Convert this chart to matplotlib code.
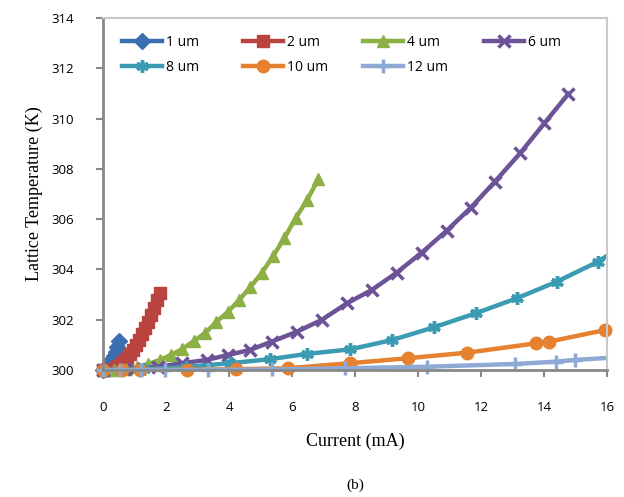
import matplotlib
matplotlib.use("Agg")
import matplotlib.pyplot as plt

# ---- data ----
x_1um = [0.0, 0.05, 0.10, 0.15, 0.20, 0.25, 0.30, 0.35, 0.40, 0.45, 0.50]
y_1um = [300.0, 300.02, 300.06, 300.12, 300.20, 300.30, 300.42, 300.56, 300.72, 300.90, 301.15]

x_2um = [0.0, 0.10, 0.19, 0.29, 0.38, 0.48, 0.57, 0.67, 0.76, 0.86, 0.95,
         1.05, 1.14, 1.24, 1.33, 1.43, 1.52, 1.62, 1.71, 1.81]
y_2um = [300.0, 300.0, 300.02, 300.04, 300.08, 300.16, 300.24, 300.36, 300.48, 300.64, 300.80,
         300.99, 301.19, 301.43, 301.67, 301.91, 302.19, 302.47, 302.78, 303.05]

x_4um = [0.0, 0.36, 0.72, 1.08, 1.44, 1.80, 2.16, 2.52, 2.88, 3.24, 3.60,
         3.96, 4.32, 4.68, 5.04, 5.40, 5.76, 6.12, 6.48, 6.84]
y_4um = [300.0, 300.0, 300.04, 300.12, 300.24, 300.40, 300.60, 300.84, 301.15, 301.47, 301.91,
         302.31, 302.78, 303.30, 303.86, 304.53, 305.25, 306.05, 306.76, 307.60]

x_6um = [0.0, 0.99, 1.76, 2.52, 3.29, 3.98, 4.67, 5.36, 6.15, 6.94, 7.74,
         8.53, 9.32, 10.12, 10.91, 11.68, 12.44, 13.24, 14.01, 14.77]
y_6um = [300.0, 300.05, 300.13, 300.27, 300.40, 300.60, 300.80, 301.13, 301.52, 301.99, 302.65,
         303.18, 303.87, 304.67, 305.54, 306.46, 307.49, 308.62, 309.81, 310.98]

x_8um = [0.0, 1.31, 2.62, 4.03, 5.30, 6.47, 7.84, 9.17, 10.51, 11.84, 13.13, 14.40, 15.72, 17.03]
y_8um = [300.0, 300.03, 300.12, 300.27, 300.43, 300.64, 300.82, 301.19, 301.70, 302.26, 302.85, 303.51, 304.31, 305.40]

x_10um = [0.0, 0.59, 1.17, 2.66, 4.22, 5.88, 7.84, 9.69, 11.57, 13.74, 14.17, 15.94]
y_10um = [300.0, 300.0, 300.0, 300.01, 300.03, 300.07, 300.27, 300.47, 300.69, 301.06, 301.13, 301.59]

x_12um = [0.0, 0.55, 1.20, 1.98, 3.34, 5.36, 7.68, 10.28, 13.08, 14.37, 14.98, 16.5]
y_12um = [300.0, 300.0, 300.0, 300.0, 300.0, 300.02, 300.07, 300.13, 300.24, 300.33, 300.40, 300.52]

labels = ["1 um", "2 um", "4 um", "6 um", "8 um", "10 um", "12 um"]
xticks = [0, 2, 4, 6, 8, 10, 12, 14, 16]
yticks = [300, 302, 304, 306, 308, 310, 312, 314]

# ---- styles ----
series = [
    (x_1um, y_1um, "#3C6FB0", dict(marker="D", markersize=8)),
    (x_2um, y_2um, "#B8433F", dict(marker="s", markersize=8)),
    (x_4um, y_4um, "#8CB045", dict(marker="^", markersize=9)),
    (x_6um, y_6um, "#6C5296", dict(marker="x", markersize=9, markeredgewidth=2.5)),
    (x_8um, y_8um, "#3A9BB3", dict(marker=(6, 2, 0), markersize=9, markeredgewidth=2.5)),
    (x_10um, y_10um, "#E5812F", dict(marker="o", markersize=9)),
    (x_12um, y_12um, "#8FA9D5", dict(marker="+", markersize=10, markeredgewidth=2.5)),
]

XMAX, YMAX = 16, 314

fig = plt.figure(figsize=(6.24, 4.97), dpi=100)
ax = fig.add_axes([103 / 624, 1 - 370 / 497, (607 - 103) / 624, (370 - 18) / 497])

handles = []
for (xs, ys, c, mk), lab in zip(series, labels):
    # line (clipped to the plot area)
    ax.plot(xs, ys, color=c, linewidth=3.2, clip_on=True, zorder=2)
    # markers for points inside the plot range (not clipped, as in the original)
    inside = [(a, b) for a, b in zip(xs, ys) if a <= XMAX]
    mx = [p[0] for p in inside]
    my = [p[1] for p in inside]
    ax.plot(mx, my, linestyle="none", color=c, markeredgecolor=c,
            markerfacecolor=c, clip_on=False, zorder=2, **mk)
    h, = ax.plot([], [], color=c, linewidth=3.2, markeredgecolor=c,
                 markerfacecolor=c, label=lab, **mk)
    handles.append(h)

ax.set_xlim(0, XMAX)
ax.set_ylim(300, YMAX)
ax.set_xticks(xticks)
ax.set_yticks(yticks)

tick_font = dict(family="Open Sans", size=9.5)
ax.set_xticklabels([str(t) for t in xticks], **tick_font)
ax.set_yticklabels([str(t) for t in yticks], **tick_font)
ax.tick_params(axis="y", direction="out", length=5, width=1.5, color="#888888", pad=16)
ax.tick_params(axis="x", direction="out", length=5, width=1.5, color="#888888", pad=17)

for s in ["left", "bottom"]:
    ax.spines[s].set_color("#888888")
    ax.spines[s].set_linewidth(2)
for s in ["top", "right"]:
    ax.spines[s].set_color("#C8C8C8")
    ax.spines[s].set_linewidth(1.5)

ax.set_xlabel("Current (mA)", family="Liberation Serif", size=13, labelpad=14)
ax.set_ylabel("Lattice Temperature (K)", family="Liberation Serif", size=13, labelpad=6)

fig.text(0.5 * (103 + 607) / 624, 1 - 485 / 497, "(b)", family="Liberation Serif",
         size=11, ha="center", va="center")

# legend: 4 equally spaced columns, rows 1,2,4,6 / 8,10,12
columns = [[0, 4], [1, 5], [2, 6], [3]]
col_x = [0.0377, 0.2778, 0.5159, 0.7560]
for k, (idx, cx) in enumerate(zip(columns, col_x)):
    lg = ax.legend([handles[i] for i in idx], [labels[i] for i in idx],
                   loc="upper left", bbox_to_anchor=(cx, 0.953), ncol=1, frameon=False,
                   prop=dict(family="Open Sans", size=10), handlelength=2.9,
                   handletextpad=0.3, labelspacing=0.72, borderpad=0, borderaxespad=0)
    if k < len(columns) - 1:
        ax.add_artist(lg)

fig.savefig("out.png", dpi=100)
